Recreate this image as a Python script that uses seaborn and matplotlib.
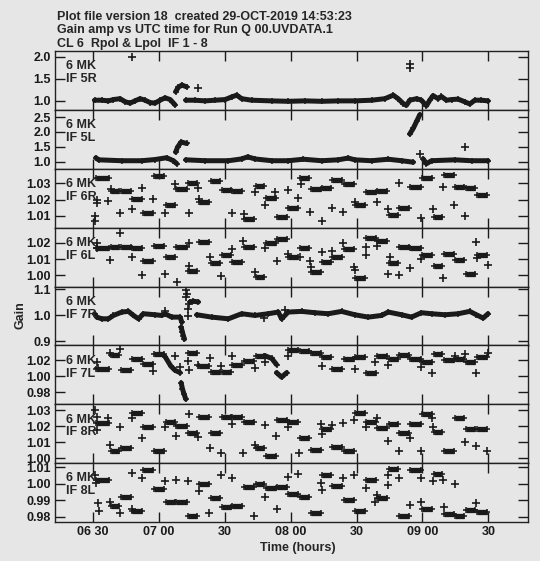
import numpy as np
import matplotlib
matplotlib.use('Agg')
import matplotlib.pyplot as plt
from matplotlib.ticker import FixedLocator, FormatStrFormatter
import seaborn as sns

nan = np.nan

##################################################################################
# Data (times are minutes after 06:30 UT, values are gain amplitude)
##################################################################################
# scan boundaries shared by the flat-gain IFs
scan_edges = [1.0, 7.9, 12.4, 17.7, 22.6, 27.6, 32.9, 37.7, 43.2, 48.0, 53.3,
              58.3, 63.2, 68.5, 73.8, 78.3, 83.6, 88.6, 93.8, 98.8, 104.1,
              108.6, 113.9, 119.2, 124.1, 129.1, 134.4, 139.2, 144.2, 149.5,
              154.8, 159.4, 164.7, 169.5, 174.5, 179.8]

# IF 5R / 5L / 7R are smooth tracks (nan breaks the track)
curve_5R_t = [0.8, 4.1, 7.1, 9.4, 12.4, 14.7, 17.0, 19.2, 21.5, 23.8, 26.1,
              28.3, 30.6, 32.9, 35.2, 37.4, nan, 37.7, 38.9, 40.5, 42.7, nan,
              42.3, 46.5, 51.1, 55.6, 60.2, 63.2, 65.5, 67.7, 72.3, 81.4, 88.9,
              96.5, 104.1, 111.7, 119.2, 126.8, 132.9, 136.7, 138.9, 141.2,
              142.7, 144.2, 147.3, 149.5, 151.8, 153.3, 154.8, 157.1, 158.6,
              160.9, 163.2, 166.2, 169.2, 171.5, 173.8, 176.8, 179.8]
curve_5R_g = [1.015, 1.015, 1.00, 1.03, 1.05, 0.98, 0.95, 1.00, 1.05, 1.015,
              0.96, 0.95, 1.015, 1.07, 1.03, 0.91, nan, 1.21, 1.31, 1.36, 1.32,
              nan, 1.015, 1.015, 1.00, 1.015, 1.03, 1.09, 1.13, 1.05, 1.015,
              1.00, 0.99, 1.00, 0.99, 1.00, 1.00, 1.015, 1.05, 1.13, 1.05, 0.94,
              0.90, 1.015, 1.05, 1.015, 0.89, 1.015, 1.12, 1.05, 1.10, 1.015,
              1.03, 1.04, 0.98, 0.93, 1.015, 1.015, 1.00]
pts_5R_t = [17.7, 48.0, 144.2, 144.2]
pts_5R_g = [2.01, 1.30, 1.84, 1.74]

curve_5L_t = [1.4, 2.6, 13.2, 22.3, 28.3, 33.6, 36.7, 38.2, nan, 37.7, 38.6,
              40.2, 42.7, nan, 42.3, 51.1, 61.7, 67.7, 70.5, 73.8, 81.4, 88.9,
              95.8, 104.1, 111.7, 116.2, 119.2, 126.8, 134.4, 140.5, 145.8, nan,
              144.2, 145.8, 147.3, 148.8, nan, 150.3, 151.8, 154.1, 164.7,
              172.3, 179.8]
curve_5L_g = [1.13, 1.06, 1.03, 1.03, 1.07, 1.13, 1.03, 0.93, nan, 1.32, 1.49,
              1.66, 1.61, nan, 1.06, 1.03, 1.03, 1.09, 1.16, 1.09, 1.03, 1.03,
              1.08, 1.03, 1.06, 1.12, 1.06, 1.03, 1.08, 1.03, 0.98, nan, 1.93,
              2.12, 2.35, 2.58, nan, 1.09, 0.93, 1.03, 1.06, 1.03, 1.03]
pts_5L_t = [148.8, 169.5]
pts_5L_g = [1.24, 1.49]

curve_7R_t = [0.8, 1.8, 4.1, 7.1, 9.4, 13.2, 16.2, 18.5, 20.8, 23.0, 28.3,
              31.4, 32.9, 35.9, 39.7, 40.5, nan, 40.2, 40.8, 41.2, 41.7, nan,
              44.2, 45.8, 48.0, nan, 47.3, 54.1, 61.7, 67.7, 73.8, 79.8, 84.4,
              85.9, 88.9, 95.0, 101.1, 107.1, 113.2, 119.2, 125.3, 131.4, 134.4,
              140.5, 145.0, 149.5, 154.1, 160.2, 166.2, 171.5, 174.5, 177.6,
              179.8]
curve_7R_g = [1.0065, 0.9935, 0.987, 0.987, 1.0, 1.013, 1.0156, 1.0, 0.987,
              1.0065, 1.0026, 1.0, 1.0065, 0.9935, 0.9935, 0.974, nan, 0.9545,
              0.935, 0.922, 0.909, nan, 1.052, 1.0546, 1.052, nan, 1.0026,
              0.9935, 0.987, 1.0065, 1.0, 1.0065, 1.013, 0.987, 1.013, 1.0156,
              1.0104, 1.0065, 1.0156, 1.0026, 0.9935, 1.0, 1.013, 1.0026,
              0.9935, 1.0104, 1.0065, 1.0026, 1.0065, 1.0156, 1.0026, 0.9896,
              1.0065]
pts_7R_t = [42.3, 42.7, 42.3, 43.8, 43.2, 43.2, 32.9, 78.0, 87.4]
pts_7R_g = [1.0975, 1.0845, 1.0715, 1.0455, 1.026, 0.997, 1.0156, 0.991, 1.0195]

# flat-gain IFs: one value per scan
gain_6R = [1.0334, 1.0254, 1.0254, 1.0205, 1.0116, 1.0344, 1.0165, 1.0264,
           1.0304, 1.0185, 1.0314, 1.0258, 1.0254, 1.0080, 1.0284, 1.0211,
           1.0092, 1.0146, 1.0334, 1.0264, 1.0270, 1.0324, 1.0294, 1.0165,
           1.0250, 1.0254, 1.0106, 1.0151, 1.0280, 1.0334, 1.0092, 1.0350,
           1.0280, 1.0270, 1.0231]
pts_6R_t = [1.8, 2.1, 1.1, 1.1, 7.1, 8.3, 12.4, 17.7, 22.6, 27.6, 32.9, 37.4,
            43.6, 48.0, 48.3, 63.2, 68.9, 73.8, 78.3, 82.9, 88.6, 93.5, 94.5,
            98.8, 104.1, 108.6, 113.9, 119.2, 129.1, 134.4, 139.2, 149.5,
            154.8, 159.4, 164.4, 169.5]
pts_6R_g = [1.0199, 1.0181, 1.0096, 1.0066, 1.0191, 1.0268, 1.0116, 1.0140,
            1.0274, 1.0205, 1.0116, 1.0298, 1.0120, 1.0270, 1.0205, 1.0120,
            1.0110, 1.0245, 1.0165, 1.0245, 1.0258, 1.0211, 1.0298, 1.0126,
            1.0070, 1.0146, 1.0126, 1.0185, 1.0185, 1.0140, 1.0304, 1.0086,
            1.0140, 1.0278, 1.0169, 1.0100]

gain_6L = [1.0165, 1.0175, 1.0175, 1.0170, 1.0090, 1.0180, 1.0110, 1.0175,
           1.0029, 1.0206, 1.0078, 1.0124, 1.0080, 1.0175, 0.9992, 1.0200,
           1.0220, 1.0110, 1.0165, 1.0022, 1.0084, 1.0110, 1.0159, 0.9986,
           1.0226, 1.0212, 1.0073, 1.0175, 1.0165, 1.0124, 1.0059, 1.0131,
           1.0094, 1.0008, 1.0124]
pts_6L_t = [1.8, 1.8, 7.9, 12.4, 17.7, 22.6, 32.9, 38.2, 43.6, 43.6, 53.3,
            58.3, 63.2, 68.5, 73.8, 78.3, 83.6, 88.6, 94.2, 98.8, 99.2, 104.1,
            108.6, 113.9, 118.9, 119.2, 124.1, 124.1, 129.1, 134.1, 139.2,
            135.2, 144.2, 149.5, 159.4, 174.5, 174.9, 179.8]
pts_6L_g = [1.0196, 1.0165, 1.0094, 1.0261, 1.0114, 1.0002, 1.0012, 0.9961,
            1.0200, 1.0057, 1.0110, 0.9996, 1.0159, 1.0212, 1.0022, 1.0165,
            1.0090, 1.0131, 1.0110, 1.0088, 1.0053, 1.0145, 1.0151, 1.0196,
            1.0053, 1.0033, 1.0124, 1.0175, 1.0180, 1.0008, 1.0002, 1.0110,
            1.0043, 1.0098, 0.9982, 1.0206, 1.0104, 1.0063]

gain_7L = [1.0098, 1.0268, 1.0077, 1.0217, 1.0162, 1.0277, nan, nan, 1.0290,
           1.0128, 1.0055, 1.0055, 1.0149, 1.0192, 1.0260, nan, nan, 1.0332,
           1.0319, 1.0290, 1.0247, 1.0098, 1.0217, 1.0247, 1.0047, 1.0260,
           1.0217, 1.0268, 1.0217, 1.0175, 1.0277, 1.0204, 1.0217, 1.0175,
           1.0247]
curve_7L_t = [32.9, 35.5, 37.4, 39.7, nan, 40.2, 40.8, 41.5, 42.3, nan, 78.3,
              81.4, 83.6, nan, 83.6, 85.9, 88.2]
curve_7L_g = [1.0247, 1.0130, 1.0077, 1.0047, nan, 0.9919, 0.9842, 0.9778,
              0.9715, nan, 1.0260, 1.0226, 1.0149, nan, 1.0047, 0.9991, 1.0047]
pts_7L_t = [1.8, 2.3, 7.9, 12.4, 27.6, 37.4, 39.7, 43.6, 43.2, 48.0, 53.3,
            58.3, 63.2, 73.8, 78.3, 88.6, 104.1, 119.2, 128.3, 134.1, 149.5,
            154.1, 164.7, 169.5, 174.5, 179.8]
pts_7L_g = [1.0175, 1.0107, 1.0290, 1.0345, 1.0064, 1.0260, 1.0119, 1.0077,
            1.0192, 1.0149, 1.0234, 1.0128, 1.0260, 1.0107, 1.0175, 1.0260,
            1.0132, 1.0098, 1.0175, 1.0149, 1.0119, 1.0047, 1.0260, 1.0277,
            1.0047, 1.0290]

gain_8R = [1.0217, 1.0043, 1.0064, 1.0283, 1.0193, 1.0043, 1.0228, 1.0201,
           1.0160, 1.0258, 1.0156, 1.0258, 1.0258, 1.0228, 1.0064, 1.0012,
           1.0238, 1.0228, 1.0125, 1.0049, 1.0180, 1.0070, 1.0043, 1.0283,
           1.0228, 1.0187, 1.0213, 1.0160, 1.0213, 1.0279, 1.0166, 1.0043,
           1.0248, 1.0180, 1.0180]
pts_8R_t = [1.1, 1.8, 1.8, 7.1, 7.9, 12.4, 17.7, 22.6, 32.9, 37.7, 43.6, 48.0,
            53.3, 58.3, 63.2, 68.5, 73.8, 78.3, 83.2, 88.6, 93.8, 103.8, 104.1,
            108.6, 113.9, 118.9, 124.1, 129.1, 134.1, 139.2, 144.2, 149.5,
            154.1, 154.8, 169.5, 174.5, 179.5]
pts_8R_g = [1.0303, 1.0258, 1.0176, 1.0254, 1.0084, 1.0193, 1.0248, 1.0125,
            1.0193, 1.0141, 1.0279, 1.0135, 1.0064, 1.0033, 1.0213, 1.0033,
            1.0084, 1.0207, 1.0141, 1.0193, 1.0033, 1.0213, 1.0152, 1.0207,
            1.0217, 1.0238, 1.0193, 1.0248, 1.0105, 1.0043, 1.0125, 1.0043,
            1.0248, 1.0193, 1.0098, 1.0074, 1.0043]

gain_8L = [1.0020, 0.9865, 0.9922, 0.9837, 1.0086, 0.9967, 0.9892, 0.9892,
           0.9804, 1.0000, 0.9912, 0.9857, 0.9865, 0.9980, 1.0000, 0.9973,
           0.9980, 0.9939, 0.9918, 0.9824, 1.0055, 0.9988, 0.9902, 0.9837,
           1.0020, 0.9912, 1.0090, 0.9804, 1.0086, 0.9845, 1.0061, 0.9816,
           0.9804, 0.9841, 0.9831]
pts_8L_t = [1.1, 1.4, 2.3, 2.6, 7.9, 12.4, 17.7, 17.7, 22.6, 32.9, 37.7, 43.2,
            48.3, 53.0, 58.3, 63.2, 73.5, 78.3, 83.6, 88.6, 93.5, 103.8, 104.1,
            113.9, 118.9, 124.1, 129.1, 128.6, 134.1, 134.1, 139.2, 144.2,
            149.5, 149.5, 154.8, 159.4, 159.9, 164.7, 174.5]
pts_8L_g = [1.0055, 1.0004, 0.9882, 0.9837, 0.9892, 0.9824, 1.0065, 0.9845,
            1.0035, 1.0014, 1.0024, 1.0014, 0.9959, 0.9824, 1.0055, 1.0035,
            0.9804, 0.9918, 0.9845, 1.0041, 1.0061, 1.0004, 0.9963, 1.0035,
            1.0055, 0.9973, 0.9933, 0.9892, 1.0055, 0.9994, 1.0035, 0.9871,
            1.0035, 0.9892, 1.0014, 1.0024, 0.9861, 1.0000, 0.9886]

if_labels = ['IF 5R', 'IF 5L', 'IF 6R', 'IF 6L', 'IF 7R', 'IF 7L', 'IF 8R', 'IF 8L']
y_limits = [(0.795, 2.136), (0.76, 2.74), (1.0027, 1.0391), (0.9933, 1.0291),
            (0.8846, 1.1115), (0.965, 1.039), (0.9969, 1.0337), (0.9769, 1.0125)]
y_ticks = [[1.0, 1.5, 2.0], [1.0, 1.5, 2.0, 2.5], [1.01, 1.02, 1.03],
           [1.00, 1.01, 1.02], [0.9, 1.0, 1.1], [0.98, 1.00, 1.02],
           [1.00, 1.01, 1.02, 1.03], [0.98, 0.99, 1.00, 1.01]]
y_fmts = ['%.1f', '%.1f', '%.2f', '%.2f', '%.1f', '%.2f', '%.2f', '%.2f']
x_ticks = [0, 30, 60, 90, 120, 150, 180]
x_ticklabels = ['06 30', '07 00', '30', '08 00', '30', '09 00', '30']

title_lines = ['Plot file version 18  created 29-OCT-2019 14:53:23',
               'Gain amp vs UTC time for Run Q 00.UVDATA.1',
               'CL 6  Rpol & Lpol  IF 1 - 8']

panels = [
    {'curve': (curve_5R_t, curve_5R_g), 'pts': (pts_5R_t, pts_5R_g)},
    {'curve': (curve_5L_t, curve_5L_g), 'pts': (pts_5L_t, pts_5L_g)},
    {'scans': gain_6R, 'pts': (pts_6R_t, pts_6R_g)},
    {'scans': gain_6L, 'pts': (pts_6L_t, pts_6L_g)},
    {'curve': (curve_7R_t, curve_7R_g), 'pts': (pts_7R_t, pts_7R_g)},
    {'scans': gain_7L, 'curve': (curve_7L_t, curve_7L_g), 'pts': (pts_7L_t, pts_7L_g)},
    {'scans': gain_8R, 'pts': (pts_8R_t, pts_8R_g)},
    {'scans': gain_8L, 'pts': (pts_8L_t, pts_8L_g)},
]

##################################################################################
# Plot
##################################################################################
sns.set_theme(style='ticks')
plt.rcParams['font.family'] = ['Liberation Sans', 'DejaVu Sans']
plt.rcParams['font.weight'] = 'bold'

BG = '#e6e6e6'
FS = 9
fig = plt.figure(figsize=(5.4, 5.61), dpi=100, facecolor=BG)

left, right = 55 / 540, 528 / 540
top, bot = 1 - 51 / 561, 1 - 522 / 561
h = (top - bot) / 8

for i, p in enumerate(panels):
    ax = fig.add_axes([left, top - (i + 1) * h, right - left, h])
    ax.set_facecolor(BG)

    if 'scans' in p:
        for k, g in enumerate(p['scans']):
            if np.isnan(g):
                continue
            t0 = scan_edges[k] + 0.3
            t1 = scan_edges[k + 1] - 0.4
            ax.plot([t0, t1], [g, g], color='k', lw=3.8, solid_capstyle='butt',
                    marker='+', ms=5, mew=1.1)

    if 'curve' in p:
        ct, cg = p['curve']
        ax.plot(ct, cg, color='k', lw=3.6, marker='+', ms=5, mew=1.1,
                solid_joinstyle='round')

    pt, pg = p['pts']
    sns.scatterplot(x=pt, y=pg, ax=ax, marker='+', color='k', s=34,
                    linewidth=1.2, legend=False)

    ax.set_xlim(-17.2, 198)
    ax.set_ylim(*y_limits[i])
    ax.yaxis.set_major_locator(FixedLocator(y_ticks[i]))
    ax.yaxis.set_major_formatter(FormatStrFormatter(y_fmts[i]))
    ax.set_xticks(x_ticks)
    if i == len(panels) - 1:
        ax.set_xticklabels(x_ticklabels)
    else:
        ax.set_xticklabels([])

    ax.tick_params(direction='in', length=7, width=1, top=True, right=True,
                   labelsize=FS, colors='k', pad=3)
    for lab in ax.get_yticklabels() + ax.get_xticklabels():
        lab.set_fontweight('bold')
    for s in ax.spines.values():
        s.set_color('#222222')
        s.set_linewidth(1.0)

    ax.text(0.023, 0.69, '6 MK', transform=ax.transAxes, fontsize=FS,
            fontweight='bold', va='baseline', ha='left')
    ax.text(0.023, 0.47, if_labels[i], transform=ax.transAxes, fontsize=FS,
            fontweight='bold', va='baseline', ha='left')

for j, line in enumerate(title_lines):
    fig.text(57 / 540, 1 - (20 + 13.5 * j) / 561, line, fontsize=FS,
             fontweight='bold', ha='left', va='baseline')

fig.text(20 / 540, 1 - 315 / 561, 'Gain', rotation=90, fontsize=FS,
         fontweight='bold', ha='center', va='center')
fig.text(298 / 540, 1 - 548 / 561, 'Time (hours)', fontsize=FS,
         fontweight='bold', ha='center', va='center')

plt.savefig('out.png', dpi=100, facecolor=BG)
